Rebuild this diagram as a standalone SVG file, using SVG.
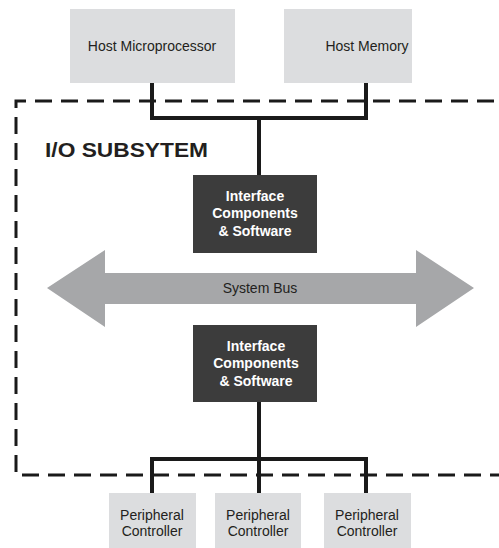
<svg xmlns="http://www.w3.org/2000/svg" width="499" height="548" viewBox="0 0 499 548">
<style>
.light{fill:#dcdddf}
.dark{fill:#3c3c3c}
.t{font-family:"Liberation Sans",Arial,sans-serif;font-size:14px;fill:#231f20;text-anchor:middle}
.w{font-family:"Liberation Sans",Arial,sans-serif;font-size:14px;font-weight:bold;fill:#fff;text-anchor:middle}
.conn{fill:none;stroke:#1a1a1a;stroke-width:4}
</style>
<rect width="499" height="548" fill="#fff"/>
<g id="subsystem-boundary">
<path d="M520 101 H16 V475 H520" fill="none" stroke="#1a1a1a" stroke-width="3" stroke-dasharray="17 9"/>
<text x="45" y="157" font-family="Liberation Sans,Arial,sans-serif" font-size="21" font-weight="bold" fill="#231f20" textLength="163" lengthAdjust="spacingAndGlyphs">I/O SUBSYTEM</text>
</g>
<g id="connectors">
<path class="conn" d="M152 83 V118 H366 V83 M259 118 V175"/>
<path class="conn" d="M259 402 V459 M152 493 V459 H366 V493 M259 459 V493"/>
</g>
<g id="host-microprocessor">
<rect class="light" x="70" y="9" width="165" height="74"/>
<text class="t" x="152" y="51">Host Microprocessor</text>
</g>
<g id="host-memory">
<rect class="light" x="284" y="9" width="128" height="74"/>
<text class="t" x="367" y="51">Host Memory</text>
</g>
<g id="interface-top">
<rect class="dark" x="193" y="175" width="124" height="78"/>
<text class="w" x="255" y="201">Interface</text>
<text class="w" x="255" y="218">Components</text>
<text class="w" x="255" y="236">&amp; Software</text>
</g>
<g id="system-bus">
<polygon points="47,288 105,250 105,273 416,273 416,250 474,288 416,327 416,304 105,304 105,327" fill="#a6a7a9"/>
<text class="t" x="260" y="293">System Bus</text>
</g>
<g id="interface-bottom">
<rect class="dark" x="193" y="325" width="124" height="77"/>
<text class="w" x="256" y="351">Interface</text>
<text class="w" x="256" y="368">Components</text>
<text class="w" x="256" y="386">&amp; Software</text>
</g>
<g id="peripheral-1">
<rect class="light" x="109" y="493" width="87" height="55"/>
<text class="t" x="152" y="520">Peripheral</text>
<text class="t" x="152" y="536">Controller</text>
</g>
<g id="peripheral-2">
<rect class="light" x="215" y="493" width="86" height="55"/>
<text class="t" x="258" y="520">Peripheral</text>
<text class="t" x="258" y="536">Controller</text>
</g>
<g id="peripheral-3">
<rect class="light" x="324" y="493" width="87" height="55"/>
<text class="t" x="367" y="520">Peripheral</text>
<text class="t" x="367" y="536">Controller</text>
</g>
</svg>
